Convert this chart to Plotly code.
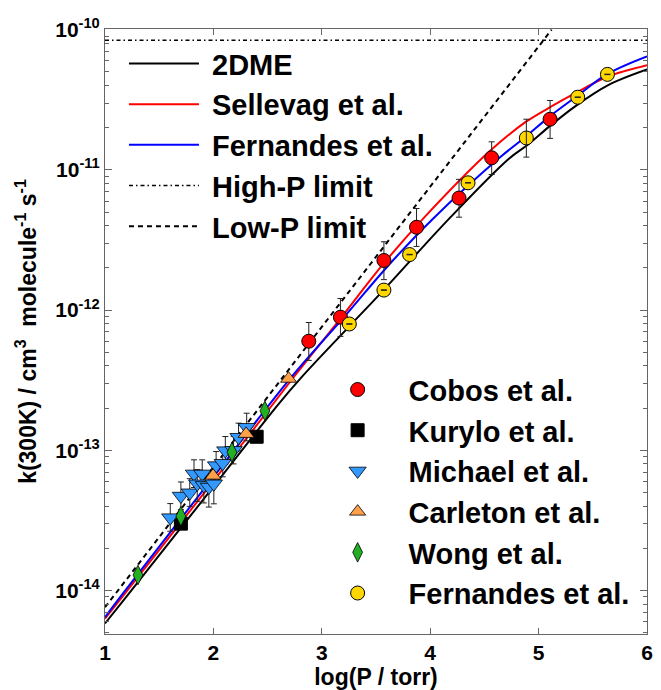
import plotly.graph_objects as go

# ---------------- data ----------------
# fall-off curves: x = log10(P / torr), k in cm^3 molecule^-1 s^-1
dme_x = [1.0, 1.198, 2.0, 2.597, 2.81, 3.254, 3.570, 4.175, 4.726, 4.909, 5.106, 5.334, 5.638, 6.0]
dme_k = [5.82e-15, 9.06e-15, 5.50e-14, 2.12e-13, 3.30e-13, 7.66e-13, 1.39e-12, 4.49e-12,
         1.20e-11, 1.53e-11, 2.06e-11, 2.83e-11, 4.01e-11, 5.20e-11]

sel_x = [1.0, 1.161, 2.0, 2.749, 3.172, 3.573, 3.935, 4.540, 4.878, 5.106, 5.334, 5.635, 6.0]
sel_k = [6.31e-15, 9.06e-15, 6.03e-14, 3.39e-13, 8.71e-13, 2.16e-12, 4.49e-12, 1.34e-11,
         2.19e-11, 2.80e-11, 3.51e-11, 4.62e-11, 5.58e-11]

fer_x = [1.0, 1.143, 2.0, 2.715, 3.205, 3.616, 4.026, 4.650, 4.887, 5.106, 5.361, 5.635, 6.0]
fer_k = [6.46e-15, 9.06e-15, 6.46e-14, 3.30e-13, 8.91e-13, 2.09e-12, 4.49e-12, 1.24e-11,
         1.74e-11, 2.42e-11, 3.39e-11, 4.84e-11, 6.46e-11]

highp_x = [1.0, 6.0]
highp_k = [8.4e-11, 8.4e-11]

lowp_x = [1.0, 5.12]
lowp_k = [7.6e-15, 1.0e-10]

# experimental data
cobos_x = [2.880, 3.172, 3.573, 3.874, 4.266, 4.567, 5.106]
cobos_k = [6.0e-13, 8.9e-13, 2.26e-12, 3.9e-12, 6.3e-12, 1.22e-11, 2.3e-11]
cobos_up = [0.36, 0.36, 0.36, 0.36, 0.36, 0.30, 0.36]
cobos_dn = [0.27, 0.27, 0.27, 0.27, 0.27, 0.24, 0.27]

kurylo_x = [1.700, 2.399]
kurylo_k = [3.0e-14, 1.25e-13]

michael_x = [1.602, 1.700, 1.782, 1.821, 1.897, 1.851, 1.912, 1.958, 2.004, 2.025, 2.086, 2.110, 2.186, 2.232, 2.307]
michael_k = [3.31e-14, 4.72e-14, 4.98e-14, 6.79e-14, 6.79e-14, 5.77e-14, 5.62e-14, 5.47e-14,
             5.77e-14, 7.78e-14, 8.09e-14, 9.95e-14, 1.00e-13, 1.24e-13, 1.46e-13]
michael_up = [0.26] * 15
michael_dn = [0.20, 0.20, 0.20, 0.20, 0.20, 0.25, 0.25, 0.28, 0.28, 0.20, 0.20, 0.20, 0.20, 0.20, 0.20]

carleton_x = [1.997, 2.302, 2.694]
carleton_k = [6.6e-14, 1.31e-13, 3.24e-13]

wong_x = [1.304, 1.700, 2.171, 2.475]
wong_k = [1.29e-14, 3.39e-14, 9.7e-14, 1.91e-13]

fern_x = [3.254, 3.573, 3.810, 4.349, 4.887, 5.361, 5.635]
fern_k = [7.96e-13, 1.39e-12, 2.49e-12, 8.09e-12, 1.69e-11, 3.30e-11, 4.80e-11]
fern_up = [0.004, 0.004, 0.004, 0.004, 0.36, 0.004, 0.004]
fern_dn = [0.004, 0.004, 0.004, 0.004, 0.27, 0.004, 0.004]

y_tickvals = [1e-14, 1e-13, 1e-12, 1e-11, 1e-10]
y_ticktext = ["10<sup>-14</sup>", "10<sup>-13</sup>", "10<sup>-12</sup>", "10<sup>-11</sup>", "10<sup>-10</sup>"]
x_tickvals = [1, 2, 3, 4, 5, 6]

# ---------------- figure ----------------
FONT = "Liberation Sans, Arial, sans-serif"
NB = "\u00a0"
fig = go.Figure()

line_w = 2
fig.add_trace(go.Scatter(x=dme_x, y=dme_k, mode="lines", name=NB + "2DME", legend="legend",
                         line=dict(color="black", width=line_w, shape="spline")))
fig.add_trace(go.Scatter(x=sel_x, y=sel_k, mode="lines", name=NB + "Sellevag et al.", legend="legend",
                         line=dict(color="red", width=line_w, shape="spline")))
fig.add_trace(go.Scatter(x=fer_x, y=fer_k, mode="lines", name=NB + "Fernandes et al.", legend="legend",
                         line=dict(color="blue", width=line_w, shape="spline")))
fig.add_trace(go.Scatter(x=highp_x, y=highp_k, mode="lines", name=NB + "High-P limit", legend="legend",
                         line=dict(color="black", width=1.5, dash="4px,3px,1.5px,3px")))
fig.add_trace(go.Scatter(x=lowp_x, y=lowp_k, mode="lines", name=NB + "Low-P limit", legend="legend",
                         line=dict(color="black", width=2, dash="5px,4px")))


def rel(vals, fr):
    return [v * f for v, f in zip(vals, fr)]


eb = dict(type="data", symmetric=False, color="#222", thickness=1, width=3)

fig.add_trace(go.Scatter(x=cobos_x, y=cobos_k, mode="markers", name="Cobos et al.", legend="legend2",
                         marker=dict(symbol="circle", size=14, color="#ff0000", line=dict(color="black", width=1)),
                         error_y=dict(eb, array=rel(cobos_k, cobos_up), arrayminus=rel(cobos_k, cobos_dn))))
fig.add_trace(go.Scatter(x=kurylo_x, y=kurylo_k, mode="markers", name="Kurylo et al.", legend="legend2",
                         marker=dict(symbol="square", size=13, color="black", line=dict(color="black", width=1))))
fig.add_trace(go.Scatter(x=michael_x, y=michael_k, mode="markers", name="Michael et al.", legend="legend2",
                         marker=dict(symbol="triangle-down", size=15, color="#3399ff", line=dict(color="black", width=0.8)),
                         error_y=dict(eb, array=rel(michael_k, michael_up), arrayminus=rel(michael_k, michael_dn))))
fig.add_trace(go.Scatter(x=carleton_x, y=carleton_k, mode="markers", name="Carleton et al.", legend="legend2",
                         marker=dict(symbol="triangle-up", size=14, color="#ffa04a", line=dict(color="black", width=0.8))))
fig.add_trace(go.Scatter(x=wong_x, y=wong_k, mode="markers", name="Wong et al.", legend="legend2",
                         marker=dict(symbol="diamond-tall", size=14, color="#22b022", line=dict(color="black", width=0.8))))
fig.add_trace(go.Scatter(x=fern_x, y=fern_k, mode="markers", name="Fernandes et al.", legend="legend2",
                         marker=dict(symbol="circle", size=14, color="#ffd700", line=dict(color="black", width=1))))
# error bars of Fernandes drawn on top of the markers
fig.add_trace(go.Scatter(x=fern_x, y=fern_k, mode="markers", showlegend=False, hoverinfo="skip",
                         marker=dict(size=1, color="rgba(0,0,0,0)"),
                         error_y=dict(eb, array=rel(fern_k, fern_up), arrayminus=rel(fern_k, fern_dn))))

axis_common = dict(showline=True, linecolor="#666", linewidth=1, mirror="ticks", ticks="inside",
                   tickcolor="#666", showgrid=False, zeroline=False,
                   tickfont=dict(family=FONT, size=21, color="black", weight="bold"))

fig.update_layout(
    width=661, height=690,
    margin=dict(l=105, r=8, t=29, b=52),
    paper_bgcolor="white", plot_bgcolor="white",
    font=dict(family=FONT, color="black"),
    xaxis=dict(axis_common, range=[1, 6], tickvals=x_tickvals, ticklen=6,
               title=dict(text="log(P / torr)", standoff=2,
                          font=dict(family=FONT, size=23, color="black", weight="bold"))),
    yaxis=dict(axis_common, type="log", range=[-14.31, -9.995], tickvals=y_tickvals, ticktext=y_ticktext,
               ticklen=7,
               minor=dict(ticks="inside", ticklen=4, tickcolor="#666",
                          tickvals=[m * 10.0 ** e for e in range(-15, -9) for m in range(2, 10)]),
               title=dict(text="k(300K) / cm<sup>3</sup>  molecule<sup>-1</sup> s<sup>-1</sup>", standoff=12,
                          font=dict(family=FONT, size=23, color="black", weight="bold"))),
    legend=dict(x=0.035, y=0.985, xanchor="left", yanchor="top", bgcolor="rgba(0,0,0,0)",
                font=dict(family=FONT, size=29, color="black", weight="bold"), itemwidth=70,
                tracegroupgap=0),
    legend2=dict(x=0.372, y=0.446, xanchor="left", yanchor="top", bgcolor="rgba(0,0,0,0)",
                 font=dict(family=FONT, size=29, color="black", weight="bold"), itemwidth=92,
                 tracegroupgap=0),
    showlegend=True,
)

fig.write_html("out.html")
